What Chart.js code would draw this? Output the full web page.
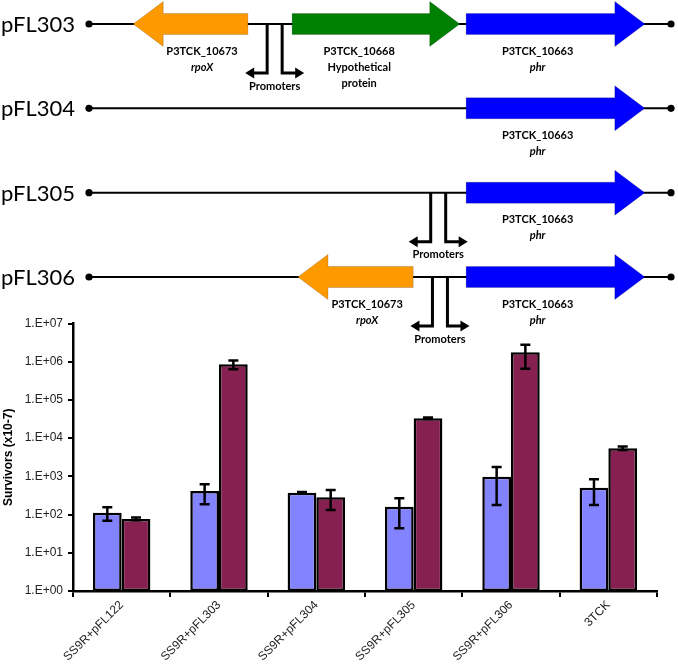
<!DOCTYPE html>
<html><head><meta charset="utf-8">
<script src="https://cdn.jsdelivr.net/npm/chart.js@4/dist/chart.umd.min.js"></script>
<style>
html,body{margin:0;padding:0;background:#fff;}
#wrap{position:relative;width:678px;height:668px;overflow:hidden;background:#fff;}
#bars{position:absolute;left:0;top:0;}
#map{position:absolute;left:0;top:0;z-index:2;pointer-events:none;}
</style></head><body>
<div id="wrap">
<canvas id="bars" width="678" height="668"></canvas>
<canvas id="map" width="678" height="350"></canvas>
</div>
<script>
// ---------- Gene map data (positions in construct units, 0..100) ----------
const constructs = ['pFL303', 'pFL304', 'pFL305', 'pFL306'];
const constructLength = [100, 100, 100, 100];
const geneConstruct = [0, 0, 0, 1, 2, 3, 3];
const geneIds = ['P3TCK_10673', 'P3TCK_10668', 'P3TCK_10663', 'P3TCK_10663', 'P3TCK_10663', 'P3TCK_10673', 'P3TCK_10663'];
const geneNames = ['rpoX', 'Hypothetical\nprotein', 'phr', 'phr', 'phr', 'rpoX', 'phr'];
const geneStart = [27.3, 34.9, 64.8, 64.8, 64.8, 55.7, 64.8];   // 5' end
const geneEnd = [7.6, 63.7, 95.5, 95.5, 95.5, 35.9, 95.5];      // 3' end (arrow tip)
const promoterConstruct = [0, 2, 3];
const promoterPos = [31.9, 60.0, 60.3];
const promoterLabel = 'Promoters';

// ---------- Survival data ----------
const strains = ['SS9R+pFL122', 'SS9R+pFL303', 'SS9R+pFL304', 'SS9R+pFL305', 'SS9R+pFL306', '3TCK'];
const survivorsA = [112, 414, 375, 161, 980, 500];
const survivorsALow = [69, 186, 360, 44, 178, 178];
const survivorsAHigh = [155, 620, 390, 267, 1770, 840];
const survivorsB = [77, 861000, 284, 33000, 1770000, 5450];
const survivorsBLow = [71, 635000, 132, 31500, 650000, 4900];
const survivorsBHigh = [84, 1070000, 438, 34500, 2760000, 6000];
const yTickValues = [1, 10, 100, 1000, 10000, 100000, 1000000, 10000000];
const yTickLabels = ['1.E+00', '1.E+01', '1.E+02', '1.E+03', '1.E+04', '1.E+05', '1.E+06', '1.E+07'];
const yTitle = 'Survivors (x10-7)';

// ---------- styles ----------
const geneColors = { 'P3TCK_10673': '#FF9900', 'P3TCK_10668': '#008000', 'P3TCK_10663': '#0000FF' };
const italicNames = ['rpoX', 'phr'];

const mapPlugin = {
  id: 'geneMap',
  afterDraw(chart) {
    const ctx = chart.ctx, sx = chart.scales.x, sy = chart.scales.y;
    const BODY = 10.5, HEADH = 22.5, HEAD = 30;
    ctx.save();
    // backbones
    constructs.forEach((name, i) => {
      const y = sy.getPixelForValue(i);
      const x0 = sx.getPixelForValue(0), x1 = sx.getPixelForValue(constructLength[i]);
      ctx.strokeStyle = '#000'; ctx.lineWidth = 2;
      ctx.beginPath(); ctx.moveTo(x0, y); ctx.lineTo(x1, y); ctx.stroke();
      ctx.fillStyle = '#000';
      [x0, x1].forEach(x => { ctx.beginPath(); ctx.arc(x, y, 3.6, 0, Math.PI * 2); ctx.fill(); });
      ctx.font = '22px Lato'; ctx.textAlign = 'left'; ctx.textBaseline = 'alphabetic';
      ctx.fillText(name, 1, y + 8);
    });
    // genes
    geneConstruct.forEach((c, g) => {
      const y = sy.getPixelForValue(c);
      const xa = sx.getPixelForValue(geneStart[g]), xe = sx.getPixelForValue(geneEnd[g]);
      const dir = Math.sign(xe - xa);
      const hb = xe - dir * HEAD;
      ctx.beginPath();
      ctx.moveTo(xa, y - BODY); ctx.lineTo(hb, y - BODY); ctx.lineTo(hb, y - HEADH);
      ctx.lineTo(xe, y); ctx.lineTo(hb, y + HEADH); ctx.lineTo(hb, y + BODY);
      ctx.lineTo(xa, y + BODY); ctx.closePath();
      ctx.fillStyle = geneColors[geneIds[g]]; ctx.fill();
      ctx.strokeStyle = 'rgba(0,0,0,0.25)'; ctx.lineWidth = 0.7; ctx.stroke();
      const cx = xa + (xe - xa) * 0.4;
      ctx.fillStyle = '#000'; ctx.textAlign = 'center'; ctx.textBaseline = 'middle';
      ctx.font = 'bold 11px Lato';
      ctx.fillText(geneIds[g], cx, y + 27);
      geneNames[g].split('\n').forEach((ln, k) => {
        ctx.font = (italicNames.includes(ln) ? 'italic bold ' : 'bold ') + '11px Lato';
        ctx.fillText(ln, cx, y + 43 + k * 16);
      });
    });
    // promoters
    promoterConstruct.forEach((c, p) => {
      const y = sy.getPixelForValue(c);
      const cx = sx.getPixelForValue(promoterPos[p]);
      const d = 49, arm = 7.5, len = 14;
      ctx.strokeStyle = '#000'; ctx.fillStyle = '#000'; ctx.lineWidth = 3; ctx.lineJoin = 'miter';
      [-1, 1].forEach(s => {
        const xv = cx + s * arm;
        ctx.beginPath(); ctx.moveTo(xv, y); ctx.lineTo(xv, y + d); ctx.lineTo(xv + s * len, y + d); ctx.stroke();
        ctx.beginPath();
        ctx.moveTo(xv + s * (len - 1), y + d - 5.5);
        ctx.lineTo(xv + s * (len + 8), y + d);
        ctx.lineTo(xv + s * (len - 1), y + d + 5.5);
        ctx.closePath(); ctx.fill();
      });
      ctx.font = 'bold 11px Lato'; ctx.textAlign = 'center'; ctx.textBaseline = 'middle';
      ctx.fillText(promoterLabel, cx, y + 62);
    });
    ctx.restore();
  }
};

new Chart(document.getElementById('map'), {
  type: 'scatter',
  data: { datasets: [] },
  options: {
    responsive: false, animation: false, devicePixelRatio: 1,
    layout: { padding: { left: 89, right: 7, top: 24, bottom: 73 } },
    plugins: { legend: { display: false }, tooltip: { enabled: false } },
    scales: {
      x: { type: 'linear', min: 0, max: 100, display: false },
      y: { type: 'linear', min: 0, max: 3, reverse: true, display: false }
    }
  },
  plugins: [mapPlugin]
});

const errorBars = {
  id: 'errorBars',
  afterDatasetsDraw(chart) {
    const ctx = chart.ctx, sy = chart.scales.y;
    ctx.save();
    ctx.strokeStyle = '#000'; ctx.lineWidth = 2.5; ctx.lineCap = 'butt';
    chart.data.datasets.forEach((ds, di) => {
      const meta = chart.getDatasetMeta(di);
      meta.data.forEach((bar, i) => {
        const x = bar.x;
        const yl = sy.getPixelForValue(ds.errLow[i]), yh = sy.getPixelForValue(ds.errHigh[i]);
        ctx.beginPath();
        ctx.moveTo(x, yl); ctx.lineTo(x, yh);
        ctx.moveTo(x - 5, yl); ctx.lineTo(x + 5, yl);
        ctx.moveTo(x - 5, yh); ctx.lineTo(x + 5, yh);
        ctx.stroke();
      });
    });
    ctx.restore();
  }
};

const tickFont = { family: 'Liberation Sans', size: 12 };
new Chart(document.getElementById('bars'), {
  type: 'bar',
  data: {
    labels: strains,
    datasets: [
      { label: 'Series 1', data: survivorsA, errLow: survivorsALow, errHigh: survivorsAHigh,
        backgroundColor: '#8383FF', borderColor: '#000', borderWidth: 2.5, borderSkipped: false },
      { label: 'Series 2', data: survivorsB, errLow: survivorsBLow, errHigh: survivorsBHigh,
        backgroundColor: '#862050', borderColor: '#000', borderWidth: 2.5, borderSkipped: false }
    ]
  },
  options: {
    responsive: false, animation: false, devicePixelRatio: 1,
    layout: { padding: { top: 323.5, left: 0, right: 21, bottom: 0 } },
    plugins: { legend: { display: false }, tooltip: { enabled: false } },
    datasets: { bar: { categoryPercentage: 0.59, barPercentage: 1 } },
    scales: {
      x: {
        grid: { display: true, drawOnChartArea: false, drawTicks: true, tickLength: 6, color: '#000', lineWidth: 2, offset: true },
        border: { display: true, color: '#000', width: 2.5 },
        ticks: { minRotation: 45, maxRotation: 45, autoSkip: false, color: '#222', font: tickFont, padding: 1 },
        afterFit(s) { s.height = 77; }
      },
      y: {
        type: 'logarithmic', min: 1, max: 10000000,
        afterBuildTicks(s) { s.ticks = yTickValues.map(v => ({ value: v })); },
        ticks: { callback: (v) => yTickLabels[yTickValues.indexOf(v)], color: '#222', font: tickFont, padding: 5 },
        grid: { display: true, drawOnChartArea: false, drawTicks: true, tickLength: 5, color: '#000', lineWidth: 2 },
        border: { display: true, color: '#000', width: 2.5 },
        title: { display: true, text: yTitle, color: '#000', font: { family: 'Liberation Sans', size: 12, weight: 'bold' }, padding: { top: 1, bottom: 0 } },
        afterFit(s) { s.width = 73; }
      }
    }
  },
  plugins: [errorBars]
});
</script>
</body></html>
